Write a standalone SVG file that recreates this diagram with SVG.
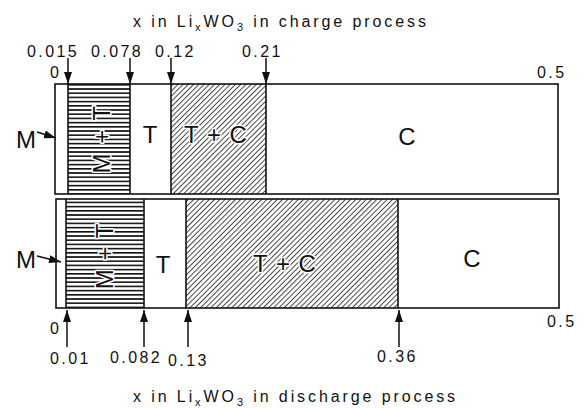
<svg xmlns="http://www.w3.org/2000/svg" width="585" height="408" viewBox="0 0 585 408">
<style>
  text { font-family: "Liberation Sans", Arial, sans-serif; fill: #111; }
  .num { font-size: 16px; letter-spacing: 2.4px; }
  .title { font-size: 16px; letter-spacing: 2.9px; }
  .big { font-size: 24px; }
  .halo { stroke: #fff; stroke-width: 3px; paint-order: stroke; stroke-linejoin: round; }
  .box { fill: none; stroke: #111; stroke-width: 1.6; }
  .div { stroke: #111; stroke-width: 1.6; }
  .arr { stroke: #111; stroke-width: 1.5; fill: none; marker-end: url(#ah); }
</style>
<defs>
  <marker id="ah" markerUnits="userSpaceOnUse" markerWidth="13" markerHeight="9" refX="12" refY="4" orient="auto">
    <path d="M0,0 L12,4 L0,8 z" fill="#111"/>
  </marker>
  <pattern id="hlines" patternUnits="userSpaceOnUse" width="10" height="4.2">
    <rect x="0" y="0" width="10" height="1.6" fill="#111"/>
  </pattern>
  <pattern id="hatch" patternUnits="userSpaceOnUse" width="3.7" height="10" patternTransform="rotate(45)">
    <line x1="0.5" y1="0" x2="0.5" y2="10" stroke="#111" stroke-width="0.8"/>
  </pattern>
</defs>
<rect width="585" height="408" fill="#fff"/>

<text class="title" x="133" y="27">x in Li<tspan dy="4" font-size="11">x</tspan><tspan dy="-4">WO</tspan><tspan dy="4" font-size="11">3</tspan><tspan dy="-4"> in charge process</tspan></text>
<text class="title" x="133" y="402">x in Li<tspan dy="4" font-size="11">x</tspan><tspan dy="-4">WO</tspan><tspan dy="4" font-size="11">3</tspan><tspan dy="-4"> in discharge process</tspan></text>

<g id="charge-bar">
  <rect class="box" x="55" y="84" width="503" height="110"/>
  <g id="charge-TM">
    <rect x="68" y="84" width="62" height="110" fill="url(#hlines)"/>
    <line class="div" x1="68" y1="84" x2="68" y2="194"/>
    <line class="div" x1="130" y1="84" x2="130" y2="194"/>
    <text class="big halo" transform="translate(110,139) rotate(-90)" text-anchor="middle" letter-spacing="1.5">M + T</text>
  </g>
  <g id="charge-T">
    <text class="big" x="150" y="143" text-anchor="middle">T</text>
  </g>
  <g id="charge-TC">
    <rect x="171" y="84" width="95" height="110" fill="url(#hatch)"/>
    <line class="div" x1="171" y1="84" x2="171" y2="194"/>
    <line class="div" x1="266" y1="84" x2="266" y2="194"/>
    <text class="big halo" x="216" y="143" text-anchor="middle" letter-spacing="1">T + C</text>
  </g>
  <g id="charge-C">
    <text class="big" x="407" y="145" text-anchor="middle">C</text>
  </g>
</g>

<g id="discharge-bar">
  <rect class="box" x="56" y="199" width="503" height="109"/>
  <g id="discharge-TM">
    <rect x="66" y="199" width="78" height="109" fill="url(#hlines)"/>
    <line class="div" x1="66" y1="199" x2="66" y2="308"/>
    <line class="div" x1="144" y1="199" x2="144" y2="308"/>
    <text class="big halo" transform="translate(113,256) rotate(-90)" text-anchor="middle" letter-spacing="1">M + T</text>
  </g>
  <g id="discharge-T">
    <text class="big" x="163" y="273" text-anchor="middle">T</text>
  </g>
  <g id="discharge-TC">
    <rect x="186" y="199" width="212" height="109" fill="url(#hatch)"/>
    <line class="div" x1="186" y1="199" x2="186" y2="308"/>
    <line class="div" x1="398" y1="199" x2="398" y2="308"/>
    <text class="big halo" x="285" y="272" text-anchor="middle" letter-spacing="1">T + C</text>
  </g>
  <g id="discharge-C">
    <text class="big" x="472" y="267" text-anchor="middle">C</text>
  </g>
</g>

<g id="labels">
  <text class="big" x="16" y="148" font-size="22">M</text>
  <text class="big" x="16" y="268" font-size="22">M</text>
  <text class="num" x="50" y="78">0</text>
  <text class="num" x="537" y="78">0.5</text>
  <text class="num" x="27" y="57">0.015</text>
  <text class="num" x="91" y="57">0.078</text>
  <text class="num" x="155" y="57">0.12</text>
  <text class="num" x="242" y="57">0.21</text>
  <text class="num" x="50" y="334">0</text>
  <text class="num" x="547" y="327">0.5</text>
  <text class="num" x="50" y="364">0.01</text>
  <text class="num" x="110" y="363">0.082</text>
  <text class="num" x="168" y="366">0.13</text>
  <text class="num" x="377" y="362">0.36</text>
</g>

<g id="connectors">
  <line class="arr" x1="68" y1="58" x2="68" y2="84"/>
  <line class="arr" x1="130" y1="58" x2="130" y2="84"/>
  <line class="arr" x1="171" y1="58" x2="171" y2="84"/>
  <line class="arr" x1="266" y1="58" x2="266" y2="84"/>
  <line class="arr" x1="67" y1="347" x2="67" y2="310"/>
  <line class="arr" x1="144" y1="347" x2="144" y2="310"/>
  <line class="arr" x1="188" y1="347" x2="188" y2="310"/>
  <line class="arr" x1="399" y1="347" x2="399" y2="310"/>
  <line class="arr" x1="37" y1="132" x2="56" y2="138"/>
  <line class="arr" x1="37" y1="256" x2="61" y2="262"/>
</g>
</svg>
